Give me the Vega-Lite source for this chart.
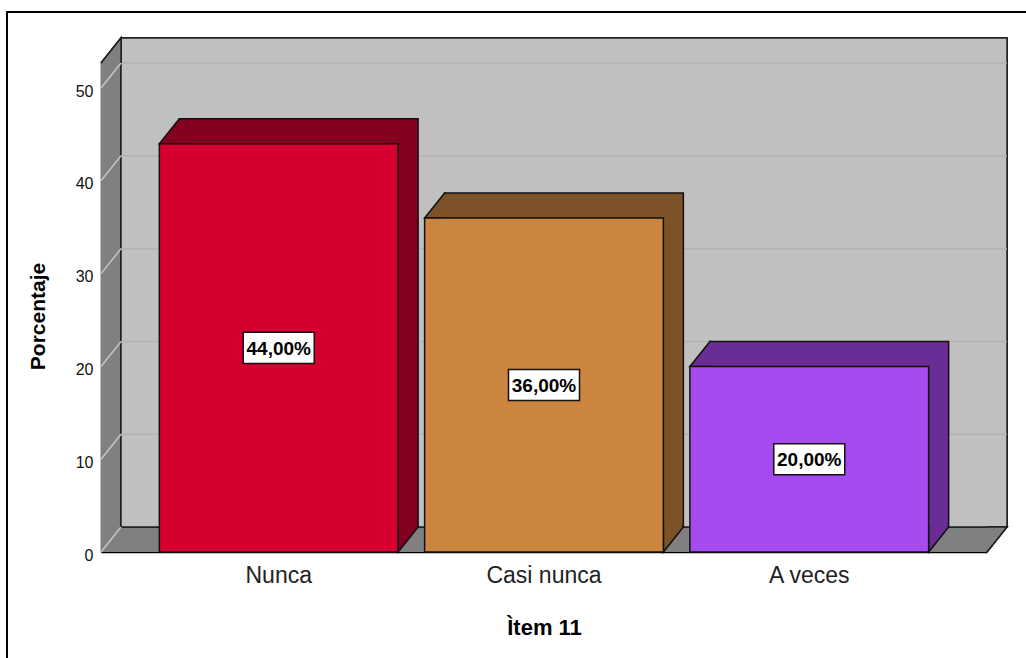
{
  "$schema": "https://vega.github.io/schema/vega-lite/v6.json",
  "width": 886,
  "height": 489,
  "autosize": {"type": "none"},
  "padding": {"left": 101, "top": 63, "right": 39, "bottom": 106},
  "background": "white",
  "config": {"view": {"stroke": null}, "font": "Liberation Sans"},
  "datasets": {
    "bars": [
      {"cat": "Nunca", "pct": 44, "label": "44,00%"},
      {"cat": "Casi nunca", "pct": 36, "label": "36,00%"},
      {"cat": "A veces", "pct": 20, "label": "20,00%"}
    ],
    "ticks": [{"v": 0}, {"v": 10}, {"v": 20}, {"v": 30}, {"v": 40}, {"v": 50}]
  },
  "layer": [
    {
      "data": {"name": "bars"},
      "mark": {"type": "rect", "fill": null, "stroke": "#000000", "strokeWidth": 2,
        "yOffset": -51, "y2Offset": 110, "xOffset": -94, "x2Offset": 45},
      "encoding": {"x": {"value": 0}, "x2": {"value": "width"},
        "y": {"datum": 52.7, "type": "quantitative"}, "y2": {"datum": 0}}
    },
    {
      "data": {"name": "bars"},
      "mark": {"type": "rect", "fill": "#808080"},
      "encoding": {"x": {"value": 0}, "x2": {"value": "width"},
        "y": {"datum": 52.7, "type": "quantitative"}, "y2": {"datum": 0}}
    },
    {
      "data": {"name": "bars"},
      "mark": {"type": "rect", "fill": "#C0C0C0", "stroke": "#222222", "strokeWidth": 1.5,
        "xOffset": 20, "x2Offset": 20, "yOffset": -25, "y2Offset": -25},
      "encoding": {"x": {"value": 0}, "x2": {"value": "width"},
        "y": {"datum": 52.7, "type": "quantitative"}, "y2": {"datum": 0}}
    },
    {
      "data": {"name": "ticks"},
      "transform": [{"filter": "datum.v > 0"}],
      "mark": {"type": "rule", "stroke": "#B2B2B2", "strokeWidth": 1.5,
        "xOffset": 20, "x2Offset": 20, "yOffset": -25, "y2Offset": -25},
      "encoding": {"x": {"value": 0}, "x2": {"value": "width"},
        "y": {"field": "v", "type": "quantitative"}}
    },
    {
      "data": {"name": "ticks"},
      "mark": {"type": "point", "shape": "M -1 1.25 L 1 -1.25", "filled": false, "stroke": "#C4C4C4",
        "strokeWidth": 1.5, "size": 400, "opacity": 1, "xOffset": -167.7, "yOffset": -12.5},
      "encoding": {
        "x": {"datum": "Nunca", "type": "nominal"},
        "y": {"field": "v", "type": "quantitative"}
      }
    },
    {
      "data": {"name": "bars"},
      "mark": {"type": "point", "shape": "M -1 1.25 L 1 -1.25 L 1 1.25", "filled": true, "fill": "#808080",
        "stroke": "#222222", "strokeWidth": 1.5, "size": 400, "opacity": 1, "xOffset": -167.7, "yOffset": -12.5},
      "encoding": {
        "x": {"datum": "Nunca", "type": "nominal"},
        "y": {"datum": 52.7, "type": "quantitative"}
      }
    },
    {
      "data": {"name": "bars"},
      "mark": {"type": "point", "shape": "M -1 1.25 L 1 -1.25 L -1 -1.25", "filled": true, "fill": "#808080",
        "stroke": "#222222", "strokeWidth": 1.5, "size": 400, "opacity": 1, "xOffset": 187.7, "yOffset": -12.5},
      "encoding": {
        "x": {"datum": "A veces", "type": "nominal"},
        "y": {"datum": 0, "type": "quantitative"}
      }
    },
    {
      "data": {"name": "bars"},
      "mark": {"type": "bar", "stroke": "#111111", "strokeWidth": 1.5,
        "xOffset": 20, "x2Offset": 20, "yOffset": -25, "y2Offset": -25},
      "encoding": {
        "x": {"field": "cat", "type": "nominal", "sort": null},
        "y": {"field": "pct", "type": "quantitative"},
        "fill": {"condition": [
          {"test": "datum.cat === 'Nunca'", "value": "#84001F"},
          {"test": "datum.cat === 'Casi nunca'", "value": "#7D5228"}
        ], "value": "#692D95"}
      }
    },
    {
      "data": {"name": "bars"},
      "mark": {"type": "point", "shape": "M 1.15 1.25 L -1 1.25 L 1 -1.25 L 1.15 -1.25", "filled": true,
        "stroke": "#111111", "strokeWidth": 1.5, "size": 400, "opacity": 1, "xOffset": -109.4, "yOffset": -12.5},
      "encoding": {
        "x": {"field": "cat", "type": "nominal", "sort": null},
        "y": {"field": "pct", "type": "quantitative"},
        "fill": {"condition": [
          {"test": "datum.cat === 'Nunca'", "value": "#84001F"},
          {"test": "datum.cat === 'Casi nunca'", "value": "#7D5228"}
        ], "value": "#692D95"}
      }
    },
    {
      "data": {"name": "bars"},
      "mark": {"type": "point", "shape": "M -1 -1.4 L -1 1.25 L 1 -1.25 L 0.9 -1.4", "filled": true,
        "stroke": "#111111", "strokeWidth": 1.5, "size": 400, "opacity": 1, "xOffset": 129.4, "yOffset": -12.5},
      "encoding": {
        "x": {"field": "cat", "type": "nominal", "sort": null},
        "y": {"datum": 0, "type": "quantitative"},
        "fill": {"condition": [
          {"test": "datum.cat === 'Nunca'", "value": "#84001F"},
          {"test": "datum.cat === 'Casi nunca'", "value": "#7D5228"}
        ], "value": "#692D95"}
      }
    },
    {
      "data": {"name": "bars"},
      "mark": {"type": "bar", "stroke": "#111111", "strokeWidth": 1.5},
      "encoding": {
        "x": {"field": "cat", "type": "nominal", "sort": null,
          "scale": {"domain": ["Nunca", "Casi nunca", "A veces"], "paddingInner": 0.1, "paddingOuter": 0.22},
          "axis": {"title": "Ìtem 11", "labelAngle": 0, "labelAlign": "center", "labelFontSize": 23, "labelColor": "#222222",
            "ticks": false, "tickSize": 0, "labelPadding": 23, "domainColor": "#000000", "domainWidth": 1.5,
            "titleFontSize": 22, "titleFontWeight": "bold", "titleColor": "#000000", "titlePadding": 30, "grid": false}},
        "y": {"field": "pct", "type": "quantitative",
          "scale": {"domain": [0, 52.7], "nice": false, "zero": true},
          "axis": {"title": "Porcentaje", "values": [0, 10, 20, 30, 40, 50], "ticks": false, "tickSize": 0,
            "labelPadding": 8, "labelFontSize": 16, "labelColor": "#111111", "labelOffset": 3,
            "domainColor": "#000000", "domainWidth": 1.5, "grid": false,
            "titleFontSize": 21, "titleFontWeight": "bold", "titleColor": "#000000", "titlePadding": 27, "titleY": 253}},
        "fill": {"condition": [
          {"test": "datum.cat === 'Nunca'", "value": "#D5002F"},
          {"test": "datum.cat === 'Casi nunca'", "value": "#CC853F"}
        ], "value": "#A64BF0"}
      }
    },
    {
      "data": {"name": "bars"},
      "transform": [{"calculate": "datum.pct / 2", "as": "mid"}],
      "mark": {"type": "point", "shape": "M -1 -0.437 L 1 -0.437 L 1 0.437 L -1 0.437 Z", "filled": true,
        "fill": "#FFFFFF", "stroke": "#111111", "strokeWidth": 1.5, "size": 5041, "opacity": 1},
      "encoding": {
        "x": {"field": "cat", "type": "nominal", "sort": null},
        "y": {"field": "mid", "type": "quantitative"}
      }
    },
    {
      "data": {"name": "bars"},
      "transform": [{"calculate": "datum.pct / 2", "as": "mid"}],
      "mark": {"type": "text", "font": "Liberation Sans", "fontWeight": "bold",
        "fontSize": 19, "color": "#000000", "baseline": "middle", "align": "center", "dy": 1},
      "encoding": {
        "x": {"field": "cat", "type": "nominal", "sort": null},
        "y": {"field": "mid", "type": "quantitative"},
        "text": {"field": "label"}
      }
    }
  ]
}
